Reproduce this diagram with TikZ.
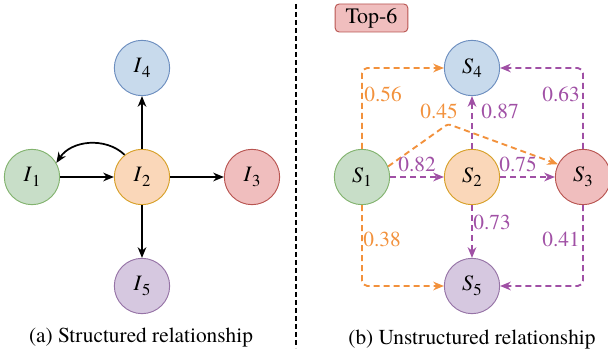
\documentclass[tikz,border=0pt]{standalone}
\usepackage{fontspec}
\setmainfont{texgyretermes}[Extension=.otf,UprightFont=*-regular,ItalicFont=*-italic,BoldFont=*-bold,BoldItalicFont=*-bolditalic]
\usetikzlibrary{arrows.meta}
\definecolor{gfill}{RGB}{200,222,200}
\definecolor{gdraw}{RGB}{130,179,110}
\definecolor{bfill}{RGB}{200,218,236}
\definecolor{bdraw}{RGB}{108,142,191}
\definecolor{ofill}{RGB}{250,215,185}
\definecolor{odraw}{RGB}{215,160,40}
\definecolor{rfill}{RGB}{240,190,190}
\definecolor{rdraw}{RGB}{184,84,80}
\definecolor{pfill}{RGB}{214,200,224}
\definecolor{pdraw}{RGB}{150,115,166}
\definecolor{oedge}{RGB}{242,145,60}
\definecolor{pedge}{RGB}{160,80,165}
\newcommand{\nd}[2]{\textit{#1}\raisebox{-0.45ex}{\fontsize{12.5}{12}\selectfont #2}}
\tikzset{
  circ/.style={circle, draw, line width=0.7pt, minimum size=41.5pt, inner sep=0pt, font=\fontsize{16.5}{16}\selectfont},
  gn/.style={circ, fill=gfill, draw=gdraw},
  bn/.style={circ, fill=bfill, draw=bdraw},
  orn/.style={circ, fill=ofill, draw=odraw},
  rn/.style={circ, fill=rfill, draw=rdraw},
  pn/.style={circ, fill=pfill, draw=pdraw},
  sol/.style={line width=1.3pt, -{Stealth[length=8pt,width=6.5pt]}},
  oe/.style={draw=oedge, line width=1.4pt, dash pattern=on 4.5pt off 3pt, -{Stealth[length=8pt,width=6.5pt]}, rounded corners=4pt},
  pe/.style={draw=pedge, line width=1.4pt, dash pattern=on 4.5pt off 3pt, -{Stealth[length=8pt,width=6.5pt]}, rounded corners=4pt},
  olab/.style={text=oedge, font=\fontsize{16}{16}\selectfont, inner sep=1pt},
  plab/.style={text=pedge, font=\fontsize{16}{16}\selectfont, inner sep=1pt},
  captxt/.style={font=\fontsize{16}{16}\selectfont},
}
\begin{document}
\begin{tikzpicture}[x=0.75pt,y=-0.75pt]
\useasboundingbox (0,0) rectangle (608,359);
% left
\node[gn] (I1) at (32,177) {\nd{I}{1}};
\node[orn] (I2) at (142,177) {\nd{I}{2}};
\node[rn] (I3) at (252,177) {\nd{I}{3}};
\node[bn] (I4) at (142,68) {\nd{I}{4}};
\node[pn] (I5) at (142,286) {\nd{I}{5}};
\draw[sol] (I1) -- (I2);
\draw[sol] (I2) -- (I3);
\draw[sol] (I2) -- (I4);
\draw[sol] (I2) -- (I5);
\draw[sol] (I2.128) to[bend right=50] (I1.30);
\node[captxt] (capa) at (141,338) {(a) Structured relationship};
% divider
\coordinate (dtop) at (296,4);
\coordinate (dbot) at (296,348);
\draw[line width=1.5pt, dash pattern=on 3.5pt off 2.5pt] (dtop) -- (dbot);
% right
\node[draw=rdraw, fill=rfill, rounded corners=3pt, line width=0.7pt, minimum width=54.5pt, minimum height=21pt, inner sep=0pt, font=\fontsize{16.5}{16}\selectfont] (top) at (371.5,18) {Top-6};
\node[gn] (S1) at (362,177) {\nd{S}{1}};
\node[orn] (S2) at (472,177) {\nd{S}{2}};
\node[rn] (S3) at (583,177) {\nd{S}{3}};
\node[bn] (S4) at (472,68) {\nd{S}{4}};
\node[pn] (S5) at (472,286) {\nd{S}{5}};
\coordinate (peak) at (448,124);
\draw[oe] (S1.north) |- (S4.west);
\draw[oe, rounded corners=2pt] (S1.22) -- (peak) -- (S3.153);
\draw[pe] (S2.north) -- (S4.south);
\draw[pe] (S3.north) |- (S4.east);
\draw[pe] (S1.east) -- (S2.west);
\draw[pe] (S2.east) -- (S3.west);
\draw[pe] (S2.south) -- (S5.north);
\draw[oe] (S1.south) |- (S5.west);
\draw[pe] (S3.south) |- (S5.east);
\node[olab] (l56) at (383,94) {0.56};
\node[olab] (l45) at (439,111) {0.45};
\node[plab] (l87) at (500,111) {0.87};
\node[plab] (l63) at (561,94) {0.63};
\node[plab] (l82) at (417,164) {0.82};
\node[plab] (l75) at (518,164) {0.75};
\node[plab] (l73) at (492,222) {0.73};
\node[olab] (l38) at (382,239) {0.38};
\node[plab] (l41) at (561,239) {0.41};
\node[captxt] (capb) at (472,340) {(b) Unstructured relationship};
\end{tikzpicture}
\end{document}
